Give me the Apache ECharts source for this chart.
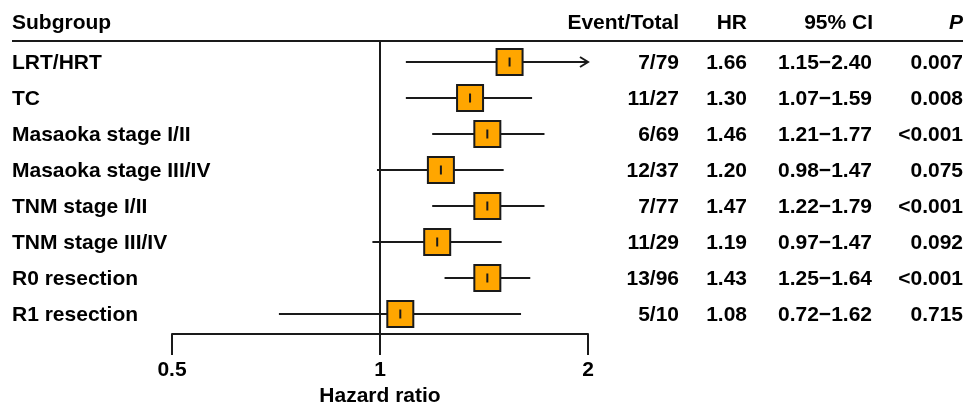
<!DOCTYPE html>
<html>
<head>
<meta charset="utf-8">
<title>Forest plot</title>
<script src="https://cdn.jsdelivr.net/npm/echarts@6/dist/echarts.min.js"></script>
<style>
    html, body { margin: 0; padding: 0; background: #fff; }
    #main { width: 971px; height: 404px; }
</style>
</head>
<body>
<div id="main"></div>
<script>
// 表格文字
var subgroups = ['LRT/HRT', 'TC', 'Masaoka stage I/II', 'Masaoka stage III/IV',
    'TNM stage I/II', 'TNM stage III/IV', 'R0 resection', 'R1 resection'];
var eventTotal = ['7/79', '11/27', '6/69', '12/37', '7/77', '11/29', '13/96', '5/10'];
var hrText = ['1.66', '1.30', '1.46', '1.20', '1.47', '1.19', '1.43', '1.08'];
var ciText = ['1.15\u22122.40', '1.07\u22121.59', '1.21\u22121.77', '0.98\u22121.47',
    '1.22\u22121.79', '0.97\u22121.47', '1.25\u22121.64', '0.72\u22121.62'];
var pText = ['0.007', '0.008', '<0.001', '0.075', '<0.001', '0.092', '<0.001', '0.715'];

// 图上画出来的位置 (读图得到)
var hrPlot = [1.54, 1.35, 1.43, 1.225, 1.43, 1.21, 1.43, 1.07];
var lowPlot = [1.09, 1.09, 1.19, 0.99, 1.19, 0.975, 1.24, 0.714];
var highPlot = [2.40, 1.66, 1.73, 1.51, 1.73, 1.50, 1.65, 1.60];

var xTicks = [0.5, 1, 2];
var xMin = 0.5, xMax = 2;

var FONT = 'bold 21px "Liberation Sans", Arial, sans-serif';
var INK = '#1a1a1a';

var forestData = [];
var textData = [];
for (var i = 0; i < subgroups.length; i++) {
    forestData.push([i, hrPlot[i], lowPlot[i], highPlot[i]]);
    textData.push([1, i]);
}

var myChart = echarts.init(document.getElementById('main'));

function renderForest(params, api) {
    var row = api.value(0);
    var p = api.coord([api.value(1), row]);
    var pLo = api.coord([api.value(2), row]);
    var over = api.value(3) > xMax;
    var pHi = api.coord([over ? xMax : api.value(3), row]);
    var y = p[1];
    var children = [{
        type: 'line',
        shape: { x1: pLo[0], y1: y, x2: pHi[0], y2: y },
        style: { stroke: INK, lineWidth: 2 }
    }];
    if (over) {
        children.push({
            type: 'polyline',
            shape: { points: [[pHi[0] - 8, y - 5], [pHi[0], y], [pHi[0] - 8, y + 5]] },
            style: { stroke: INK, lineWidth: 2, fill: null }
        });
    }
    children.push({
        type: 'rect',
        shape: { x: p[0] - 13, y: y - 13, width: 26, height: 26 },
        style: { fill: '#FFA600', stroke: INK, lineWidth: 2 }
    });
    children.push({
        type: 'line',
        shape: { x1: p[0], y1: y - 4.5, x2: p[0], y2: y + 4.5 },
        style: { stroke: INK, lineWidth: 2 }
    });
    return { type: 'group', children: children };
}

// 每一行右边的数字
var cols = [
    { arr: eventTotal, x: 679, align: 'right' },
    { arr: hrText, x: 747, align: 'right' },
    { arr: ciText, x: 872, align: 'right' },
    { arr: pText, x: 963, align: 'right' }
];

function renderText(params, api) {
    var row = api.value(1);
    var y = api.coord([1, row])[1] + 1;
    var children = [{
        type: 'text',
        style: { text: subgroups[row], x: 12, y: y, font: FONT, fill: '#000',
            align: 'left', verticalAlign: 'middle' }
    }];
    cols.forEach(function (c) {
        children.push({
            type: 'text',
            style: { text: c.arr[row], x: c.x, y: y, font: FONT, fill: '#000',
                align: c.align, verticalAlign: 'middle' }
        });
    });
    return { type: 'group', children: children };
}

var option = {
    animation: false,
    backgroundColor: '#fff',
    grid: { left: 172, right: 383, top: 42, bottom: 70, containLabel: false, outerBoundsMode: 'none' },
    xAxis: {
        type: 'log',
        logBase: 2,
        min: xMin,
        max: xMax,
        name: 'Hazard ratio',
        nameLocation: 'middle',
        nameGap: 50,
        nameTextStyle: { color: '#000', fontWeight: 'bold', fontSize: 21, fontFamily: 'Liberation Sans' },
        axisLine: { show: true, onZero: false, lineStyle: { color: INK, width: 2 } },
        axisTick: { show: true, length: 21, lineStyle: { color: INK, width: 2 } },
        axisLabel: {
            color: '#000', fontWeight: 'bold', fontSize: 21, fontFamily: 'Liberation Sans',
            margin: 26,
            formatter: function (v) {
                for (var k = 0; k < xTicks.length; k++) {
                    if (Math.abs(v - xTicks[k]) < 1e-6) return String(xTicks[k]);
                }
                return '';
            }
        },
        splitLine: { show: false },
        minorTick: { show: false }
    },
    yAxis: {
        type: 'value',
        min: -0.556,
        max: 7.556,
        inverse: true,
        show: false
    },
    graphic: [
        { type: 'line', shape: { x1: 12, y1: 41, x2: 963, y2: 41 }, style: { stroke: INK, lineWidth: 2 } },
        { type: 'text', style: { text: 'Subgroup', x: 12, y: 23, font: FONT, fill: '#000', align: 'left', verticalAlign: 'middle' } },
        { type: 'text', style: { text: 'Event/Total', x: 679, y: 23, font: FONT, fill: '#000', align: 'right', verticalAlign: 'middle' } },
        { type: 'text', style: { text: 'HR', x: 747, y: 23, font: FONT, fill: '#000', align: 'right', verticalAlign: 'middle' } },
        { type: 'text', style: { text: '95% CI', x: 873, y: 23, font: FONT, fill: '#000', align: 'right', verticalAlign: 'middle' } },
        { type: 'text', style: { text: 'P', x: 963, y: 23, font: 'italic bold 21px "Liberation Sans", Arial, sans-serif', fill: '#000', align: 'right', verticalAlign: 'middle' } }
    ],
    series: [{
        type: 'custom',
        name: 'forest',
        renderItem: renderForest,
        data: forestData,
        clip: false,
        z: 3,
        markLine: {
            silent: true,
            symbol: 'none',
            label: { show: false },
            lineStyle: { color: INK, width: 2, type: 'solid' },
            data: [{ xAxis: 1 }]
        }
    }, {
        type: 'custom',
        name: 'table',
        renderItem: renderText,
        data: textData,
        clip: false,
        silent: true
    }]
};
myChart.setOption(option);
</script>
</body>
</html>
